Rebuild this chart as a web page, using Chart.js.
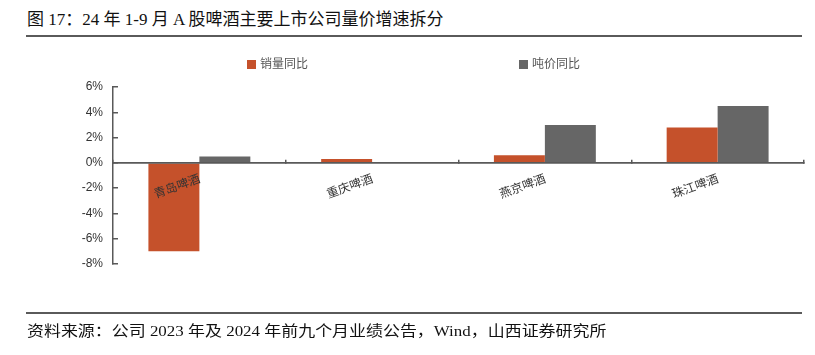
<!DOCTYPE html>
<html>
<head>
<meta charset="utf-8">
<script src="https://cdn.jsdelivr.net/npm/chart.js@4.4.1/dist/chart.umd.min.js"></script>
<style>
  html, body { margin: 0; padding: 0; background: #fff; }
  #wrap { position: relative; width: 815px; height: 355px; overflow: hidden; }
  #title { position: absolute; left: 27px; top: 5px; font-family: "Liberation Serif", "Noto Sans CJK SC", serif; font-size: 17px; color: #111; white-space: nowrap; }
  #rule1 { position: absolute; left: 26px; top: 35px; width: 776px; height: 2px; background: #5a5a5a; }
  #rule2 { position: absolute; left: 26px; top: 312px; width: 776px; height: 2px; background: #5a5a5a; }
  #source { position: absolute; left: 27px; top: 319px; font-family: "Liberation Serif", "Noto Sans CJK SC", serif; font-size: 15px; color: #111; white-space: nowrap; transform: scaleX(1.13); transform-origin: 0 0; }
  #chartBox { position: absolute; left: 0; top: 0; width: 815px; height: 355px; }
  .leg { position: absolute; top: 55px; font-family: "Noto Sans CJK SC", sans-serif; font-size: 12px; color: #555; white-space: nowrap; line-height: 16px; }
  .leg i { display: inline-block; width: 9px; height: 9px; margin-right: 4px; vertical-align: -1px; }
</style>
</head>
<body>
<div id="wrap">
  <div id="title">图 17：24 年 1-9 月 A 股啤酒主要上市公司量价增速拆分</div>
  <div id="rule1"></div>
  <div id="chartBox"><canvas id="c" width="815" height="355"></canvas></div>
  <div id="legend"></div>
  <div id="rule2"></div>
  <div id="source">资料来源：公司 2023 年及 2024 年前九个月业绩公告，Wind，山西证券研究所</div>
</div>
<script>
const categories = ["青岛啤酒", "重庆啤酒", "燕京啤酒", "珠江啤酒"];
const seriesNames = ["销量同比", "吨价同比"];
const volumeYoY = [-7.0, 0.3, 0.6, 2.8];
const priceYoY = [0.5, 0.05, 3.0, 4.5];
const seriesColors = ["#C5512B", "#666666"];
const yTicks = [-8, -6, -4, -2, 0, 2, 4, 6];

const chart = new Chart(document.getElementById('c'), {
  type: 'bar',
  data: {
    labels: categories,
    datasets: [
      { label: seriesNames[0], data: volumeYoY, backgroundColor: seriesColors[0], categoryPercentage: 0.59, barPercentage: 1.0 },
      { label: seriesNames[1], data: priceYoY, backgroundColor: seriesColors[1], categoryPercentage: 0.59, barPercentage: 1.0 }
    ]
  },
  options: {
    responsive: false,
    animation: false,
    layout: { padding: { left: 0, right: 11, top: 87, bottom: 91 } },
    plugins: { legend: { display: false }, tooltip: { enabled: false } },
    scales: {
      x: {
        position: { y: 0 },
        grid: { offset: true, drawOnChartArea: false, drawTicks: true, tickLength: -4, color: '#595959', lineWidth: 1.5 },
        border: { color: '#595959', width: 1.8, z: 1 },
        ticks: {
          z: 2,
          minRotation: 20, maxRotation: 20, padding: 12,
          font: { family: '"Noto Sans CJK SC", sans-serif', size: 12 },
          color: '#333'
        }
      },
      y: {
        min: -8, max: 6,
        afterFit: (s) => { s.width = 113; },
        afterBuildTicks: (s) => { s.ticks = yTicks.map(v => ({ value: v })); },
        grid: { drawOnChartArea: false, drawTicks: true, tickLength: -5, color: '#595959', lineWidth: 1.5 },
        border: { color: '#595959', width: 1.5 },
        ticks: {
          padding: 15,
          font: { family: '"Liberation Sans", Arial, sans-serif', size: 12 },
          color: '#333',
          callback: (v) => v + '%'
        }
      }
    }
  }
});

// HTML legend built from datasets
const legendX = [247, 519];
const legEl = document.getElementById('legend');
chart.data.datasets.forEach((ds, i) => {
  const d = document.createElement('div');
  d.className = 'leg';
  d.style.left = legendX[i] + 'px';
  d.innerHTML = '<i style="background:' + ds.backgroundColor + '"></i>' + ds.label;
  legEl.appendChild(d);
});
</script>
</body>
</html>
